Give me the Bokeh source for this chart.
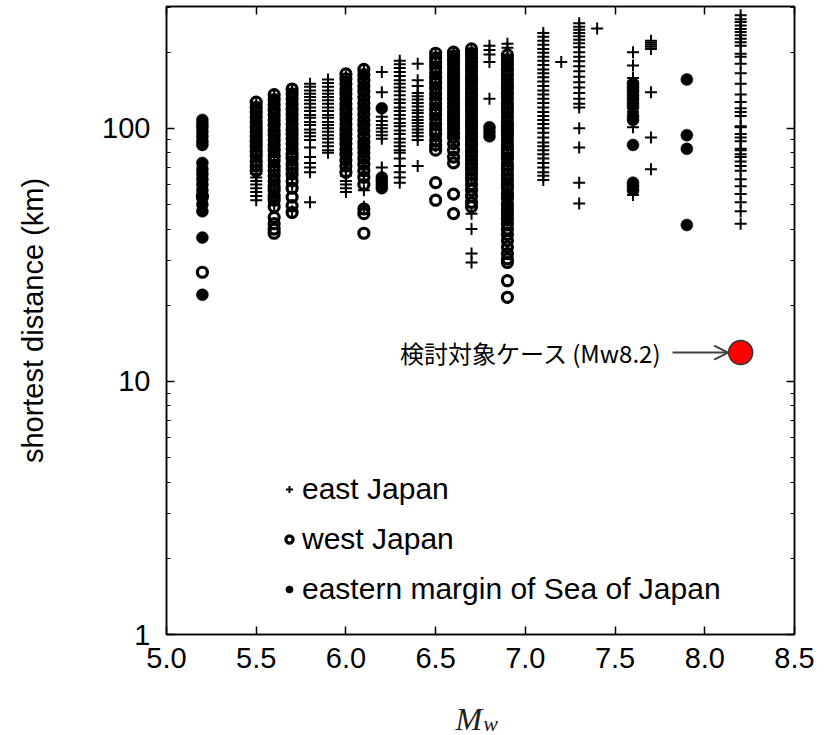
from bokeh.plotting import figure
from bokeh.layouts import column
from bokeh.models import (LinearAxis, LogAxis, FixedTicker, Range1d, Label, Arrow,
                          OpenHead, Legend, LegendItem, CustomJSTickFormatter)
from bokeh.core.properties import value
from bokeh.embed import file_html
from bokeh.resources import INLINE

# ---------------- data ----------------
x_ticks = [5.0, 5.5, 6.0, 6.5, 7.0, 7.5, 8.0, 8.5]
x_tick_labels = ["5.0", "5.5", "6.0", "6.5", "7.0", "7.5", "8.0", "8.5"]
y_ticks = [1, 10, 100]
y_tick_labels = ["1", "10", "100"]
y_minor = [2, 3, 4, 5, 6, 7, 8, 9, 20, 30, 40, 50, 60, 70, 80, 90, 200, 300]

series_names = ["east Japan", "west Japan", "eastern margin of Sea of Japan"]

# east Japan (+) : Mw -> shortest distances (km)
east = {
    5.5: [124, 118, 113, 108, 104, 99, 95, 91, 87, 83, 79, 76, 72, 69, 66, 64, 62, 60, 58, 56, 54, 52],
    5.6: [133, 127, 121, 115, 110, 105, 101, 96, 92, 88, 84, 80, 77, 73, 70, 66, 63, 61, 58, 55, 53, 50],
    5.7: [140, 134, 128, 122, 116, 111, 106, 101, 97, 93, 89, 85, 81, 77, 74, 70, 67, 64, 60, 47],
    5.8: [150, 146, 141, 137, 133, 129, 125, 121, 117, 113, 110, 106, 103, 99, 96, 93, 90, 84, 77, 73, 70, 67, 51],
    5.9: [156, 151, 146, 141, 137, 133, 129, 125, 121, 117, 113, 110, 106, 103, 100, 97, 94, 91, 88, 85, 82, 80],
    6.0: [160, 153, 146, 140, 134, 128, 122, 116, 111, 106, 101, 97, 93, 89, 85, 81, 77, 73, 69, 65, 62, 60, 58, 56],
    6.1: [167, 159, 151, 143, 136, 129, 123, 117, 111, 105, 100, 95, 90, 86, 82, 78, 74, 70, 66, 57, 49],
    6.2: [167, 139, 111, 107, 103, 100, 97, 94, 91, 70],
    6.3: [185, 179, 173, 167, 161, 155, 150, 145, 140, 135, 130, 126, 121, 117, 113, 109, 105, 102, 98, 95,
          91, 88, 85, 82, 80, 76, 71, 67, 64, 61],
    6.4: [180, 155, 147, 138, 134, 130, 126, 122, 118, 115, 111, 108, 105, 102, 99, 96, 93, 90, 71],
    6.5: [194, 178, 162, 147, 134, 122, 112, 102, 93, 85],
    6.6: [197, 189, 182, 175, 168, 162, 156, 150, 144, 138, 133, 128, 123, 118, 114, 110, 106, 102, 98, 94],
    6.7: [202, 194, 186, 178, 171, 164, 158, 152, 146, 140, 134, 129, 124, 119, 115, 110, 106, 102, 98, 94,
          90, 86, 83, 80, 76, 73, 70, 67, 64, 46, 40, 32, 29.5],
    6.8: [212, 204, 196, 183, 131],
    6.9: [216, 208, 191, 183, 175, 168, 161, 154, 147, 141, 135, 129, 124, 119, 114, 109, 104, 100, 96, 92,
          88, 84, 80, 77, 74, 71, 68, 65, 62, 59, 56, 54, 51, 49, 47, 45, 43],
    7.1: [238, 230, 222, 214, 206, 199, 192, 185, 178, 171, 165, 159, 153, 147, 141, 136, 131, 126, 121, 116,
          112, 108, 104, 100, 96, 92, 88, 85, 82, 79, 76, 73, 70, 67, 65, 62.5],
    7.2: [183],
    7.3: [260, 252, 245, 238, 231, 224, 217, 209, 200, 192, 184, 176, 168, 160, 152, 145, 138, 131, 125, 121,
          100, 84, 61, 50.5],
    7.4: [248],
    7.6: [200, 177, 158, 153, 116, 101, 54.5],
    7.7: [222, 218, 214, 210, 206, 139, 92, 69],
    8.2: [280, 270, 263, 255, 247, 240, 233, 226, 219, 212, 197, 192, 180, 165, 150, 136, 127, 120, 116, 112,
          102, 101, 95, 92, 89, 83, 82, 79, 77, 74, 71, 68, 63, 59, 55, 51, 47, 42],
}

# west Japan (o)
west = {
    5.2: [54, 27],
    5.5: [127, 121, 116, 111, 106, 101, 97, 93, 89, 85, 81, 78, 74, 71, 68],
    5.6: [136, 130, 124, 118, 113, 108, 103, 98, 94, 90, 86, 82, 78, 75, 71, 68, 65, 62, 59, 57, 54, 52, 49,
          44.5, 42, 40, 38.5],
    5.7: [143, 137, 131, 125, 119, 114, 109, 104, 99, 95, 91, 87, 83, 79, 76, 72, 69, 66, 62, 58, 53.5, 49.5, 46.5],
    6.0: [164, 157, 150, 143, 137, 131, 125, 119, 114, 109, 104, 99, 95, 91, 87, 83, 79, 75, 71, 67],
    6.1: [171, 163, 155, 147, 140, 133, 126, 120, 114, 108, 103, 98, 93, 88, 84, 80, 76, 72, 68, 64, 60, 48, 46, 38.5],
    6.5: [198, 190, 182, 174, 166, 158, 151, 144, 137, 131, 125, 119, 114, 109, 104, 99, 95, 90, 86, 82, 61, 52],
    6.6: [200, 193, 186, 179, 172, 165, 159, 153, 147, 141, 136, 131, 126, 121, 116, 112, 108, 104, 100, 96,
          92, 87, 82, 77, 73, 55, 46],
    6.7: [206, 198, 190, 182, 175, 168, 161, 155, 149, 143, 137, 132, 127, 122, 117, 112, 108, 104, 100, 96,
          92, 88, 85, 81, 78, 75, 72, 69, 66, 63, 60, 57, 54, 51, 49],
    6.9: [195, 187, 179, 171, 164, 157, 150, 144, 138, 132, 126, 121, 116, 111, 106, 102, 98, 94, 90, 86,
          82, 79, 76, 72, 69, 66, 63, 60, 58, 55, 53, 50, 48, 46, 44, 42, 40, 38, 36, 34, 32, 30.5, 29.5, 25, 21.5],
}

# eastern margin of Sea of Japan (filled dot)
sea = {
    5.2: [108, 104, 101, 97, 93, 89, 86, 73, 69, 66, 63, 60, 57, 53, 50, 47, 37, 22],
    6.2: [120, 64, 62, 60, 58],
    6.8: [101, 97, 93],
    7.6: [150, 145, 140, 135, 130, 125, 121, 112, 108, 86, 61, 59, 57],
    7.9: [156, 94, 83, 41.5],
}

# studied case
target_mw = [8.2]
target_km = [13.0]
target_label = "検討対象ケース (Mw8.2)"

x_label_main = "M"
x_label_sub = "w"
y_label = "shortest distance (km)"


def flatten(d):
    xs, ys = [], []
    for mw, kms in d.items():
        xs += [mw] * len(kms)
        ys += kms
    return xs, ys


FONT = "Liberation Sans"
xr = Range1d(5.0, 8.5)

p = figure(width=818, height=686, x_range=xr, y_range=Range1d(1, 303),
           y_axis_type="log", output_backend="svg", toolbar_location=None,
           min_border_left=166, min_border_right=24, min_border_top=6, min_border_bottom=52)
p.xgrid.visible = False
p.ygrid.visible = False
p.outline_line_color = "black"
p.outline_line_width = 1.5
p.background_fill_color = "white"
p.border_fill_color = "white"

# bottom axis
xa = p.xaxis[0]
xa.ticker = FixedTicker(ticks=x_ticks)
xa.major_label_overrides = dict(zip(x_ticks, x_tick_labels))
# left axis
ya = p.yaxis[0]
ya.ticker = FixedTicker(ticks=y_ticks, minor_ticks=y_minor)
ya.major_label_overrides = dict(zip(y_ticks, y_tick_labels))
ya.axis_label = y_label
ya.axis_label_text_font = FONT
ya.axis_label_text_font_size = "29px"
ya.axis_label_text_font_style = "normal"
ya.axis_label_text_color = "black"
ya.axis_label_standoff = 50

for ax in (xa, ya):
    ax.major_label_text_font = FONT
    ax.major_label_text_font_size = "29px"
    ax.major_label_text_color = "black"
    ax.major_tick_in = 8
    ax.major_tick_out = 0
    ax.minor_tick_in = 4
    ax.minor_tick_out = 0
    ax.axis_line_width = 1.5
    ax.major_tick_line_width = 1.5
xa.major_label_standoff = 13
ya.major_label_standoff = 16

# mirror axes (ticks only)
blank = CustomJSTickFormatter(code="return '';")
top = LinearAxis(ticker=FixedTicker(ticks=x_ticks), formatter=blank, major_label_text_font_size="1px",
                 major_label_standoff=0, major_tick_in=8, major_tick_out=0,
                 minor_tick_in=0, minor_tick_out=0, axis_line_width=1.5, major_tick_line_width=1.5)
p.add_layout(top, "above")
right = LogAxis(ticker=FixedTicker(ticks=y_ticks, minor_ticks=y_minor), formatter=blank,
                major_label_text_font_size="1px",
                major_label_standoff=0, major_tick_in=8, major_tick_out=0,
                minor_tick_in=4, minor_tick_out=0, axis_line_width=1.5, major_tick_line_width=1.5)
p.add_layout(right, "right")

ex, ey = flatten(east)
wx, wy = flatten(west)
sx, sy = flatten(sea)

r_east = p.scatter(ex, ey, marker="cross", size=12, line_color="black", line_width=2)
r_west = p.scatter(wx, wy, marker="circle", size=10, line_color="black", line_width=3.2,
                   fill_alpha=0)
r_sea = p.scatter(sx, sy, marker="circle", size=12, line_color="black", fill_color="black",
                  line_width=0.5)

p.scatter(target_mw, target_km, marker="circle", size=24, fill_color="#ff0000",
          line_color="#333333", line_width=1.5)

p.add_layout(Arrow(end=OpenHead(size=14, line_width=2, line_color="#404040"),
                   x_start=7.82, y_start=target_km[0], x_end=8.13, y_end=target_km[0],
                   line_width=2, line_color="#404040"))
p.add_layout(Label(x=7.76, y=target_km[0], text=target_label, text_align="right",
                   text_baseline="middle", text_font="Noto Sans CJK JP",
                   text_font_size="24px", text_color="black"))

legend = Legend(items=[LegendItem(label=series_names[0], renderers=[r_east]),
                       LegendItem(label=series_names[1], renderers=[r_west]),
                       LegendItem(label=series_names[2], renderers=[r_sea])],
                location=(114, 28), orientation="vertical", padding=0, spacing=16, margin=0,
                glyph_width=18, glyph_height=18, label_standoff=4, label_height=20,
                label_text_font=FONT, label_text_font_size="30px", label_text_color="black",
                border_line_alpha=0, background_fill_alpha=0)
p.add_layout(legend)

# x-axis title strip below the plot: M with subscript w
q = figure(width=818, height=49, x_range=xr, y_range=Range1d(0, 49),
           output_backend="svg", toolbar_location=None, x_axis_location=None, y_axis_location=None,
           min_border_left=166, min_border_right=24, min_border_top=0, min_border_bottom=0)
q.outline_line_color = None
q.xgrid.visible = False
q.ygrid.visible = False
q.background_fill_color = "white"
q.border_fill_color = "white"
q.text(x=[6.61], y=[17], text=[x_label_main], text_font=value("Liberation Serif"),
       text_font_style="italic", text_font_size="32px", text_color="#222222",
       text_baseline="middle", text_align="left")
q.text(x=[6.765], y=[12], text=[x_label_sub], text_font=value("Liberation Serif"),
       text_font_style="italic", text_font_size="22px", text_color="#222222",
       text_baseline="middle", text_align="left")

open("out.html", "w").write(file_html(column(p, q, spacing=0), INLINE))
